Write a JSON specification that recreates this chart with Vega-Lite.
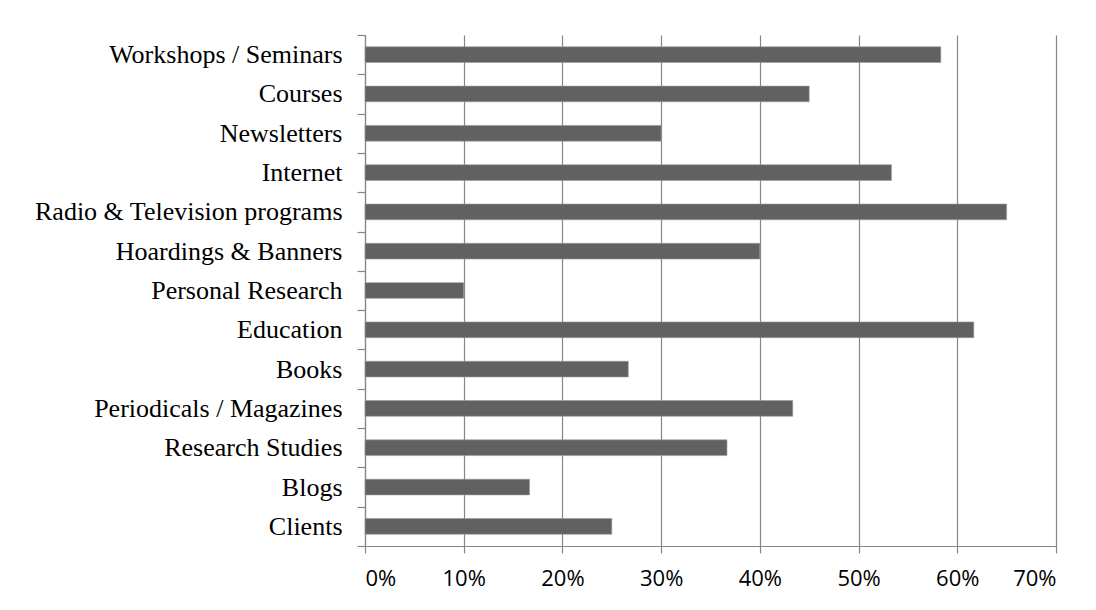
{
  "$schema": "https://vega.github.io/schema/vega-lite/v6.json",
  "width": 691,
  "height": 511,
  "autosize": {"type": "none"},
  "padding": {"left": 365, "top": 35, "right": 40, "bottom": 64},
  "background": "white",
  "data": {
    "values": [
      {"source": "Workshops / Seminars", "share": 0.5833},
      {"source": "Courses", "share": 0.45},
      {"source": "Newsletters", "share": 0.30},
      {"source": "Internet", "share": 0.5333},
      {"source": "Radio & Television programs", "share": 0.65},
      {"source": "Hoardings & Banners", "share": 0.40},
      {"source": "Personal Research", "share": 0.10},
      {"source": "Education", "share": 0.6167},
      {"source": "Books", "share": 0.2667},
      {"source": "Periodicals / Magazines", "share": 0.4333},
      {"source": "Research Studies", "share": 0.3667},
      {"source": "Blogs", "share": 0.1667},
      {"source": "Clients", "share": 0.25}
    ]
  },
  "mark": {
    "type": "bar",
    "color": "#616161",
    "stroke": "#9a9a9a",
    "strokeWidth": 0.6,
    "height": {"band": 0.4}
  },
  "encoding": {
    "y": {
      "field": "source",
      "type": "nominal",
      "sort": null,
      "scale": {"paddingInner": 0, "paddingOuter": 0},
      "axis": {
        "title": null,
        "tickBand": "extent",
        "tickSize": 8,
        "tickWidth": 1.2,
        "tickColor": "#868686",
        "domainColor": "#868686",
        "domainWidth": 1.2,
        "labelFont": "Liberation Serif",
        "labelFontSize": 26,
        "labelColor": "#000000",
        "labelPadding": 15,
        "labelLimit": 0,
        "grid": false
      }
    },
    "x": {
      "field": "share",
      "type": "quantitative",
      "scale": {"domain": [0, 0.7], "nice": false},
      "axis": {
        "title": null,
        "format": "%",
        "values": [0, 0.1, 0.2, 0.3, 0.4, 0.5, 0.6, 0.7],
        "tickSize": 7,
        "tickWidth": 1.2,
        "tickColor": "#868686",
        "domainColor": "#868686",
        "domainWidth": 1.2,
        "gridColor": "#868686",
        "gridWidth": 1.2,
        "gridOpacity": 1,
        "labelFont": "Open Sans",
        "labelFontSize": 22,
        "labelColor": "#000000",
        "labelPadding": 15
      }
    }
  },
  "config": {"view": {"stroke": null}}
}
